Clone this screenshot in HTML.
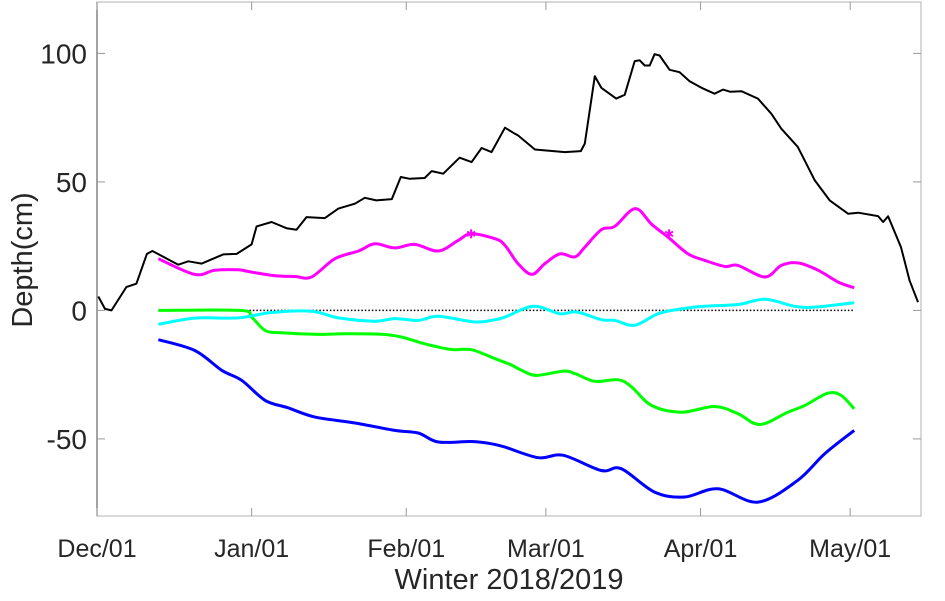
<!DOCTYPE html>
<html><head><meta charset="utf-8"><style>
html,body{margin:0;padding:0;background:#fff;}
svg{display:block;font-family:"Liberation Sans",Arial,sans-serif;}
</style></head><body>
<svg id="chart" width="945" height="601" viewBox="0 0 945 601" xmlns="http://www.w3.org/2000/svg">
<g id="frame"></g><g id="series"></g><g id="labels"></g>
</svg>
<script>
// ---- data (days since Dec 01 2018, values in cm) ----
const xTickLabels = ["Dec/01","Jan/01","Feb/01","Mar/01","Apr/01","May/01"];
const xTickDays = [0,31,62,90,121,151];
const yTickValues = [-50,0,50,100];
const blackDays = [0.27,1.6,2.9,5.9,7.9,10.0,11.1,16.3,18.3,21.0,25.3,28.0,31.0,32.0,35.0,38.0,40.0,42.0,45.7,48.4,51.7,53.7,56.0,59.1,60.9,62.7,65.7,67.1,69.4,72.7,75.1,77.1,79.1,81.8,83.8,84.4,87.8,93.8,97.0,97.8,99.8,101.1,104.1,105.8,107.8,108.8,109.8,110.8,111.8,112.8,114.8,116.8,118.8,121.2,123.8,125.5,126.9,129.2,132.5,135.2,137.2,140.5,143.9,146.9,150.6,152.6,156.6,157.6,158.6,161.2,162.9,164.6];
const blackVals = [5.4,0.6,0,9.1,10.4,22.0,23.1,17.8,19.1,18.2,21.8,22.0,25.7,32.7,34.4,32.0,31.4,36.3,35.9,39.6,41.5,43.8,42.8,43.3,51.9,51.2,51.5,54.2,53.2,59.4,57.7,63.2,61.6,71.1,68.7,68.1,62.6,61.6,62.0,64.9,91.1,86.6,82.4,83.9,97.0,97.3,95.3,95.3,99.7,99.2,93.6,92.7,89.2,86.6,84.3,85.9,85.1,85.3,82.4,76.5,70.7,63.6,50.6,42.8,37.6,38.0,36.7,34.4,36.6,24.6,11.7,3.2];
const magentaDays = [12.3,19.6,23.6,28.3,31.0,35.7,39.7,43.0,47.7,52.4,55.7,59.7,63.7,68.4,72.4,75.0,79.8,81.8,84.4,87.2,89.8,92.8,95.8,97.8,101.1,103.8,107.9,111.2,114.5,118.5,121.8,125.9,128.5,133.9,137.2,140.5,144.6,148.6,151.8];
const magentaVals = [20.1,14.0,15.6,15.8,14.9,13.5,13.2,13.0,20.1,23.1,25.9,24.3,25.7,23.1,27.2,29.8,27.9,25.3,18.2,14.0,18.2,22.0,20.8,24.6,31.4,32.7,39.6,33.5,28.5,22.0,19.5,17.1,17.5,13.0,17.5,18.5,15.6,11.0,8.8];
const starDays = [75.0,114.7];
const starVals = [29.8,29.8];
const greenDays = [12.3,28.7,31.0,33.7,37.0,43.7,49.7,57.0,61.1,65.7,71.1,75.1,79.8,82.8,85.1,88.1,93.5,95.8,99.8,104.5,107.2,111.2,117.2,123.8,128.5,132.9,138.5,141.9,146.5,149.2,151.8];
const greenVals = [0,0,-2.6,-7.8,-8.7,-9.3,-9.1,-9.3,-10.4,-13.0,-15.2,-15.3,-18.8,-21.0,-23.3,-25.3,-23.6,-24.6,-27.6,-27.0,-29.8,-37.0,-39.6,-37.4,-40.2,-44.4,-39.6,-37.0,-32.2,-33.1,-38.3];
const cyanDays = [12.3,19.6,28.3,35.0,43.0,48.4,55.7,59.7,64.4,68.4,75.8,79.8,81.8,87.5,92.8,96.1,101.1,103.8,107.8,112.5,117.2,121.8,128.5,133.9,139.9,143.9,151.8];
const cyanVals = [-5.4,-3.0,-2.9,-0.8,-0.3,-2.9,-4.2,-3.2,-3.9,-2.3,-4.5,-3.6,-2.6,1.6,-1.3,-0.6,-3.6,-3.9,-5.8,-1.3,0.6,1.6,2.3,4.3,1.6,1.3,3.0];
const blueDays = [12.3,19.6,25.0,29.0,33.7,38.3,43.7,51.7,59.7,64.4,68.4,75.1,79.1,81.8,88.5,93.5,101.1,105.1,111.8,117.8,124.5,132.5,140.5,145.9,151.8];
const blueVals = [-11.4,-15.6,-23.3,-27.2,-35.0,-37.9,-41.5,-43.8,-46.7,-47.7,-51.2,-51.0,-51.9,-53.2,-57.3,-56.4,-62.3,-61.6,-70.7,-72.6,-69.4,-74.6,-66.1,-55.8,-46.7];
const zeroLineDays = [12.3,151.8];

// ---- axes ----
const L=97,R=921,T=2,B=516, DMAX=165.2, YMIN=-80, YMAX=120;
const xs=d=>L+(d/DMAX)*(R-L);
const ys=v=>B-(v-YMIN)/(YMAX-YMIN)*(B-T);
const NS="http://www.w3.org/2000/svg";
function mk(tag,attrs,parent){const e=document.createElementNS(NS,tag);for(const k in attrs)e.setAttribute(k,attrs[k]);parent.appendChild(e);return e;}
const frame=document.getElementById('frame'),ser=document.getElementById('series'),lab=document.getElementById('labels');

const box=mk('rect',{x:L,y:T,width:R-L,height:B-T,fill:'none',stroke:'#b0b0b0','stroke-width':1},frame);


const yax=mk('line',{x1:L,y1:T,x2:L,y2:B,stroke:'#666','stroke-width':1.2},frame);



xTickDays.forEach((d,i)=>{
  const x=xs(d);
  mk('line',{x1:x,y1:B,x2:x,y2:B-8,stroke:'#999','stroke-width':1},frame);
  mk('line',{x1:x,y1:T,x2:x,y2:T+8,stroke:'#999','stroke-width':1},frame);
  const t=mk('text',{x:x,y:557,'text-anchor':'middle','font-size':25,fill:'#262626'},lab);
  t.textContent=xTickLabels[i];
  
  
});
yTickValues.forEach(v=>{
  const y=ys(v);
  mk('line',{x1:L,y1:y,x2:L+8,y2:y,stroke:'#999','stroke-width':1},frame);
  mk('line',{x1:R,y1:y,x2:R-8,y2:y,stroke:'#999','stroke-width':1},frame);
  const t=mk('text',{x:87,y:y+10,'text-anchor':'end','font-size':28,fill:'#262626'},lab);
  t.textContent=String(v);
  
  
});
const yt=mk('text',{x:0,y:0,'text-anchor':'middle','font-size':29,fill:'#262626',transform:'translate(32,260) rotate(-90)'},lab);
yt.textContent='Depth(cm)';


const xt=mk('text',{x:509,y:589,'text-anchor':'middle','font-size':29,fill:'#262626'},lab);
xt.textContent='Winter 2018/2019';



function linePath(ds,vs){return ds.map((d,i)=>(i?'L':'M')+xs(d).toFixed(1)+','+ys(vs[i]).toFixed(1)).join('');}
function smoothPath(ds,vs){
  const p=ds.map((d,i)=>[xs(d),ys(vs[i])]);
  let s='M'+p[0][0].toFixed(1)+','+p[0][1].toFixed(1);
  for(let i=0;i<p.length-1;i++){
    const p0=p[i-1]||p[i],p1=p[i],p2=p[i+1],p3=p[i+2]||p2;
    const c1=[p1[0]+(p2[0]-p0[0])/6,p1[1]+(p2[1]-p0[1])/6];
    const c2=[p2[0]-(p3[0]-p1[0])/6,p2[1]-(p3[1]-p1[1])/6];
    s+='C'+c1.map(n=>n.toFixed(1)).join(',')+' '+c2.map(n=>n.toFixed(1)).join(',')+' '+p2[0].toFixed(1)+','+p2[1].toFixed(1);
  }
  return s;
}
const zl=mk('line',{x1:xs(zeroLineDays[0]),y1:ys(0),x2:xs(zeroLineDays[1]),y2:ys(0),stroke:'#000','stroke-width':1.5,'stroke-dasharray':'1.5,2'},ser);



const defs=[["blue-series",blueDays,blueVals,'#0000ff'],["green-series",greenDays,greenVals,'#00ff00'],["cyan-series",cyanDays,cyanVals,'#00ffff'],["magenta-series",magentaDays,magentaVals,'#ff00ff']];
defs.forEach(([n,ds,vs,c])=>{
  const p=mk('path',{d:smoothPath(ds,vs),fill:'none',stroke:c,'stroke-width':3,'stroke-linejoin':'round'},ser);
  
  
});
const bl=mk('path',{d:linePath(blackDays,blackVals),fill:'none',stroke:'#000','stroke-width':2,'stroke-linejoin':'round'},ser);



starDays.forEach((d,i)=>{
  const cx=xs(d), cy=ys(starVals[i]), r=4.5;
  const g=mk('g',{stroke:'#ff00ff','stroke-width':2},ser);
  
  
  mk('line',{x1:cx,y1:cy-r,x2:cx,y2:cy+r},g);
  mk('line',{x1:cx-r*0.87,y1:cy-r*0.5,x2:cx+r*0.87,y2:cy+r*0.5},g);
  mk('line',{x1:cx-r*0.87,y1:cy+r*0.5,x2:cx+r*0.87,y2:cy-r*0.5},g);
});
</script>
</body></html>
